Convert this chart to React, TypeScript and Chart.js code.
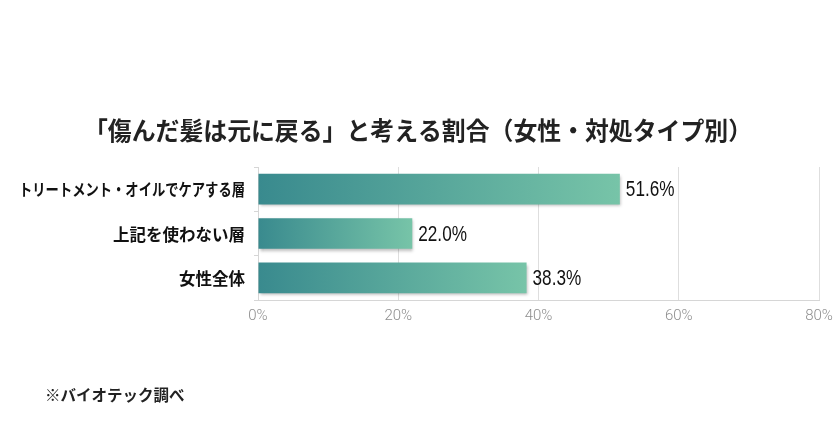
import React, { useEffect, useRef } from "react";
import { Chart, registerables } from "chart.js";

Chart.register(...registerables);

const categories = ["トリートメント・オイルでケアする層", "上記を使わない層", "女性全体"];
const shares = [51.6, 22.0, 38.3];
const xTicks = [0, 20, 40, 60, 80];

const titleText = "「傷んだ髪は元に戻る」と考える割合（女性・対処タイプ別）";
const noteText = "※バイオテック調べ";

const jpFont = '"Noto Sans CJK JP", "Noto Sans", sans-serif';
const numFont = '"Liberation Sans", Arial, sans-serif';

const extras = {
  id: "extras",
  beforeDatasetsDraw(chart: Chart) {
    const ctx = chart.ctx;
    ctx.save();
    ctx.shadowColor = "rgba(0,0,0,0.28)";
    ctx.shadowBlur = 3;
    ctx.shadowOffsetX = 1;
    ctx.shadowOffsetY = 2;
  },
  afterDatasetsDraw(chart: Chart) {
    const ctx = chart.ctx;
    ctx.restore();
    const meta = chart.getDatasetMeta(0);
    // value labels, narrowed to look like a condensed face
    ctx.save();
    ctx.fillStyle = "#111";
    ctx.font = `22px ${numFont}`;
    ctx.textAlign = "left";
    ctx.textBaseline = "middle";
    meta.data.forEach((bar: any, i: number) => {
      ctx.save();
      ctx.translate(bar.x + 6, bar.y + 1);
      ctx.scale(0.78, 1);
      ctx.fillText(shares[i].toFixed(1) + "%", 0, 0);
      ctx.restore();
    });
    ctx.restore();

    // category labels
    const y = chart.scales.y;
    ctx.save();
    ctx.fillStyle = "#111";
    ctx.font = `bold 16.5px ${jpFont}`;
    ctx.textAlign = "right";
    ctx.textBaseline = "middle";
    categories.forEach((c, i) => {
      ctx.fillText(c, y.right - 13, y.getPixelForValue(i) + 1, 226);
    });
    ctx.restore();
  },
  afterDraw(chart: Chart) {
    const ctx = chart.ctx;
    ctx.save();
    ctx.fillStyle = "#222";
    ctx.textBaseline = "middle";
    ctx.font = `bold 24.5px ${jpFont}`;
    ctx.textAlign = "center";
    ctx.fillText(titleText, 418, 131, 668);
    ctx.font = `bold 15.5px ${jpFont}`;
    ctx.textAlign = "left";
    ctx.fillText(noteText, 45, 395);
    ctx.restore();
  },
};

export default function App() {
  const canvasRef = useRef<HTMLCanvasElement | null>(null);

  useEffect(() => {
    document.body.style.margin = "0";
    if (!canvasRef.current) return;

    const chart = new Chart(canvasRef.current, {
      type: "bar",
      data: {
        labels: categories,
        datasets: [
          {
            data: shares,
            backgroundColor: (c: any) => {
              const ch = c.chart;
              const x = ch.scales.x;
              if (!x || !c.parsed) return "#4f9f98";
              const x0 = x.getPixelForValue(0);
              const x1 = x.getPixelForValue(c.parsed.x);
              if (!isFinite(x0) || !isFinite(x1) || x1 <= x0) return "#4f9f98";
              const g = ch.ctx.createLinearGradient(x0, 0, x1, 0);
              g.addColorStop(0, "#398a8e");
              g.addColorStop(1, "#77c4a8");
              return g;
            },
            borderWidth: 0,
            categoryPercentage: 1,
            barPercentage: 0.69,
          },
        ],
      },
      options: {
        indexAxis: "y",
        animation: false,
        responsive: false,
        layout: { padding: { left: 0, right: 21, top: 167, bottom: 109 } },
        plugins: {
          legend: { display: false },
          tooltip: { enabled: false },
        },
        scales: {
          x: {
            min: 0,
            max: 80,
            afterFit: (s: any) => {
              s.height = 30;
            },
            afterBuildTicks: (s: any) => {
              s.ticks = xTicks.map((v) => ({ value: v }));
            },
            ticks: {
              callback: (v: any) => v + "%",
              color: "#8e8e8e",
              font: { family: '"Roboto", sans-serif', size: 15, weight: 300 },
              padding: 7,
            },
            grid: { color: "#dedede", drawTicks: false },
            border: { color: "#d6d6d6" },
          },
          y: {
            afterFit: (s: any) => {
              s.width = 258;
            },
            ticks: { display: false },
            grid: {
              offset: true,
              drawOnChartArea: false,
              tickLength: 4,
              color: "#d6d6d6",
            },
            border: { color: "#d6d6d6" },
          },
        },
      },
      plugins: [extras],
    });

    return () => {
      chart.destroy();
    };
  }, []);

  return (
    <div style={{ width: 840, height: 439, background: "#fff" }}>
      <canvas ref={canvasRef} width={840} height={439} />
    </div>
  );
}
